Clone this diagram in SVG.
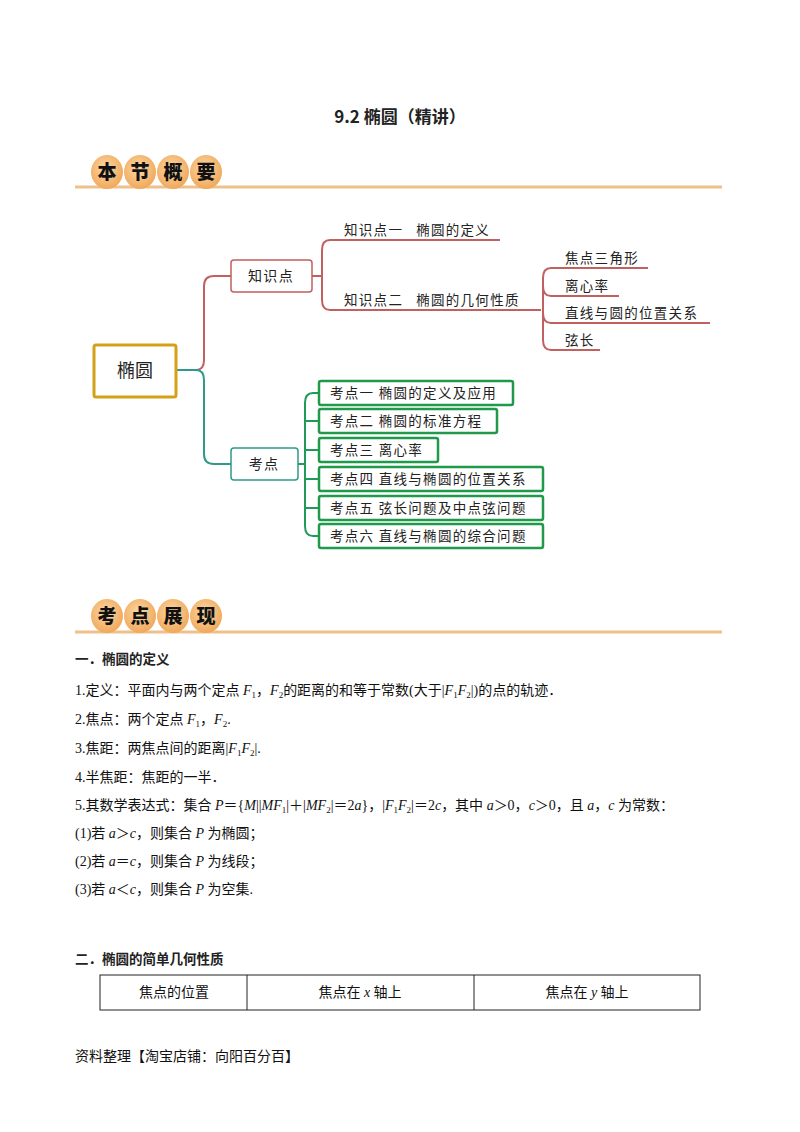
<svg xmlns="http://www.w3.org/2000/svg" width="800" height="1132" viewBox="0 0 800 1132">
<defs>
<radialGradient id="eg" cx="0.45" cy="0.4" r="0.6"><stop offset="0" stop-color="#fbd9a8"/><stop offset="1" stop-color="#f0a85a"/></radialGradient>
</defs>
<style>
.s{font-family:"Noto Sans CJK SC","Liberation Sans",sans-serif;fill:#222}
.m{letter-spacing:1.3px}
.t{font-family:"Liberation Serif","Noto Sans CJK SC",serif;font-size:14px;fill:#111}
.bn{font-family:"Noto Sans CJK SC",sans-serif;font-weight:900;font-size:19px;fill:#111;text-anchor:middle}
.egg{fill:url(#eg)}
.r{fill:none;stroke:#c0605f;stroke-width:2}
.g{fill:none;stroke:#1f9a5a;stroke-width:2}
.tl{fill:none;stroke:#2f9a8a;stroke-width:2}
.gb{fill:#fff;stroke:#1f9a4a;stroke-width:2.5}
</style>
<rect width="800" height="1132" fill="#fff"/>
<text x="400" y="123" class="s" font-size="17" font-weight="bold" text-anchor="middle">9.2 椭圆（精讲）</text>
<g id="banner1">
<line x1="75" y1="187" x2="722" y2="187" stroke="#eec08a" stroke-width="3"/>
<ellipse class="egg" cx="107" cy="172" rx="16" ry="17"/><ellipse class="egg" cx="140" cy="172" rx="16" ry="17"/><ellipse class="egg" cx="173" cy="172" rx="16" ry="17"/><ellipse class="egg" cx="206" cy="172" rx="16" ry="17"/>
<text x="107" y="179" class="bn">本</text><text x="140" y="179" class="bn">节</text><text x="173" y="179" class="bn">概</text><text x="206" y="179" class="bn">要</text>
</g>
<g id="connectors">
<path class="r" d="M176 370 H196 Q204 370 204 360 V286 Q204 276 214 276 H231"/>
<path class="tl" d="M176 370 H196 Q204 370 204 380 V454 Q204 464 214 464 H231" stroke-width="3"/>
<path class="r" d="M312 276 H322 M322 250 V300 Q322 310 330 310 H541 M322 250 Q322 240 330 240 H500"/>
<path class="r" d="M543 310 V278 Q543 268 551 268 H648 M543 310 V286 Q543 296 551 296 H619 M543 310 V313 Q543 323 551 323 H710 M543 310 V340 Q543 350 551 350 H600"/>
<path class="g" d="M298 464 H305 M305 403 Q305 393 313 393 H319 M305 403 V526 Q305 536 313 536 H319 M305 421 H319 M305 450 H319 M305 479 H319 M305 508 H319"/>
</g>
<g id="root"><rect x="94" y="345" width="82" height="52" rx="2" fill="#fff" stroke="#d4a017" stroke-width="3"/><text x="135" y="377" class="s" font-size="18" text-anchor="middle">椭圆</text></g>
<g id="n-zsd"><rect x="231" y="260" width="81" height="32" rx="3" fill="#fff" stroke="#c0605f" stroke-width="1.5"/><text x="271" y="281" class="s m" font-size="14" text-anchor="middle">知识点</text></g>
<g id="n-kd"><rect x="231" y="448" width="67" height="32" rx="3" fill="#fff" stroke="#2f9a8a" stroke-width="1.5"/><text x="264" y="469" class="s m" font-size="14" text-anchor="middle">考点</text></g>
<g id="k1"><text x="344" y="235" class="s m" font-size="13.5" xml:space="preserve">知识点一   椭圆的定义</text></g>
<g id="k2"><text x="344" y="305" class="s m" font-size="13.5" xml:space="preserve">知识点二   椭圆的几何性质</text></g>
<g id="s1"><text x="565" y="263" class="s m" font-size="13.5">焦点三角形</text></g>
<g id="s2"><text x="565" y="291" class="s m" font-size="13.5">离心率</text></g>
<g id="s3"><text x="565" y="318" class="s m" font-size="13.5">直线与圆的位置关系</text></g>
<g id="s4"><text x="565" y="345" class="s m" font-size="13.5">弦长</text></g>
<g id="e1"><rect class="gb" x="319" y="381" width="194" height="24" rx="2"/><text x="330" y="398" class="s m" font-size="13.5" xml:space="preserve">考点一 椭圆的定义及应用</text></g>
<g id="e2"><rect class="gb" x="319" y="409" width="178" height="24" rx="2"/><text x="330" y="426" class="s m" font-size="13.5" xml:space="preserve">考点二 椭圆的标准方程</text></g>
<g id="e3"><rect class="gb" x="319" y="438" width="119" height="24" rx="2"/><text x="330" y="455" class="s m" font-size="13.5" xml:space="preserve">考点三 离心率</text></g>
<g id="e4"><rect class="gb" x="319" y="467" width="224" height="24" rx="2"/><text x="330" y="484" class="s m" font-size="13.5" xml:space="preserve">考点四 直线与椭圆的位置关系</text></g>
<g id="e5"><rect class="gb" x="319" y="496" width="224" height="24" rx="2"/><text x="330" y="513" class="s m" font-size="13.5" xml:space="preserve">考点五 弦长问题及中点弦问题</text></g>
<g id="e6"><rect class="gb" x="319" y="524" width="224" height="24" rx="2"/><text x="330" y="541" class="s m" font-size="13.5" xml:space="preserve">考点六 直线与椭圆的综合问题</text></g>
<g id="banner2">
<line x1="75" y1="632" x2="722" y2="632" stroke="#eec08a" stroke-width="3"/>
<ellipse class="egg" cx="107" cy="616" rx="16" ry="17"/><ellipse class="egg" cx="140" cy="616" rx="16" ry="17"/><ellipse class="egg" cx="173" cy="616" rx="16" ry="17"/><ellipse class="egg" cx="206" cy="616" rx="16" ry="17"/>
<text x="107" y="623" class="bn">考</text><text x="140" y="623" class="bn">点</text><text x="173" y="623" class="bn">展</text><text x="206" y="623" class="bn">现</text>
</g>
<text x="75" y="664" class="s" font-size="13.5" font-weight="bold">一．椭圆的定义</text>
<text x="75" y="695" class="t">1.定义：平面内与两个定点 <tspan font-style="italic">F</tspan><tspan font-size="9" dy="3">1</tspan><tspan dy="-3">，</tspan><tspan font-style="italic">F</tspan><tspan font-size="9" dy="3">2</tspan><tspan dy="-3">的距离的和等于常数(大于|</tspan><tspan font-style="italic">F</tspan><tspan font-size="9" dy="3">1</tspan><tspan font-style="italic" dy="-3">F</tspan><tspan font-size="9" dy="3">2</tspan><tspan dy="-3">|)的点的轨迹．</tspan></text>
<text x="75" y="724" class="t">2.焦点：两个定点 <tspan font-style="italic">F</tspan><tspan font-size="9" dy="3">1</tspan><tspan dy="-3">，</tspan><tspan font-style="italic">F</tspan><tspan font-size="9" dy="3">2</tspan><tspan dy="-3">.</tspan></text>
<text x="75" y="753" class="t">3.焦距：两焦点间的距离|<tspan font-style="italic">F</tspan><tspan font-size="9" dy="3">1</tspan><tspan font-style="italic" dy="-3">F</tspan><tspan font-size="9" dy="3">2</tspan><tspan dy="-3">|.</tspan></text>
<text x="75" y="782" class="t">4.半焦距：焦距的一半．</text>
<text x="75" y="810" class="t">5.其数学表达式：集合 <tspan font-style="italic">P</tspan>＝{<tspan font-style="italic">M</tspan>||<tspan font-style="italic">MF</tspan><tspan font-size="9" dy="3">1</tspan><tspan dy="-3">|＋|</tspan><tspan font-style="italic">MF</tspan><tspan font-size="9" dy="3">2</tspan><tspan dy="-3">|＝2</tspan><tspan font-style="italic">a</tspan>}，|<tspan font-style="italic">F</tspan><tspan font-size="9" dy="3">1</tspan><tspan font-style="italic" dy="-3">F</tspan><tspan font-size="9" dy="3">2</tspan><tspan dy="-3">|＝2</tspan><tspan font-style="italic">c</tspan>，其中 <tspan font-style="italic">a</tspan>＞0，<tspan font-style="italic">c</tspan>＞0，且 <tspan font-style="italic">a</tspan>，<tspan font-style="italic">c</tspan> 为常数：</text>
<text x="75" y="838" class="t">(1)若 <tspan font-style="italic">a</tspan>＞<tspan font-style="italic">c</tspan>，则集合 <tspan font-style="italic">P</tspan> 为椭圆；</text>
<text x="75" y="866" class="t">(2)若 <tspan font-style="italic">a</tspan>＝<tspan font-style="italic">c</tspan>，则集合 <tspan font-style="italic">P</tspan> 为线段；</text>
<text x="75" y="894" class="t">(3)若 <tspan font-style="italic">a</tspan>＜<tspan font-style="italic">c</tspan>，则集合 <tspan font-style="italic">P</tspan> 为空集.</text>
<text x="75" y="964" class="s" font-size="13.5" font-weight="bold">二．椭圆的简单几何性质</text>
<g id="table" fill="none" stroke="#222" stroke-width="1">
<rect x="100" y="975" width="600" height="35"/><line x1="247" y1="975" x2="247" y2="1010"/><line x1="474" y1="975" x2="474" y2="1010"/>
</g>
<text x="174" y="997" class="t" text-anchor="middle">焦点的位置</text>
<text x="360" y="997" class="t" text-anchor="middle">焦点在 <tspan font-style="italic">x</tspan> 轴上</text>
<text x="587" y="997" class="t" text-anchor="middle">焦点在 <tspan font-style="italic">y</tspan> 轴上</text>
<text x="75" y="1061" class="t" font-size="13">资料整理【淘宝店铺：向阳百分百】</text>
</svg>
